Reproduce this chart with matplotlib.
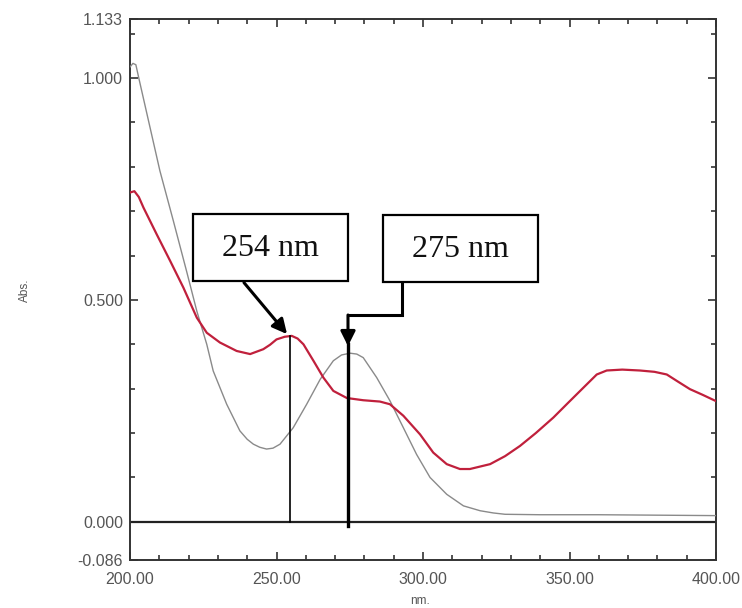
import matplotlib
matplotlib.use('Agg')
import matplotlib.pyplot as plt
from matplotlib.patches import Rectangle
from matplotlib.ticker import MultipleLocator, FixedLocator, FixedFormatter

# gray trace (wavelength nm, absorbance)
gray_nm = [200, 201, 202, 203, 210.2, 214.8, 219.3, 222.8, 226.2, 228.4, 233,
           237.5, 240, 242.1, 244.3, 246.6, 248.8, 251.2, 255.7, 260.3, 264.9,
           269.4, 272.2, 275.1, 277.4, 279.6, 284.2, 288.7, 293.3, 297.8, 302.4,
           308.1, 313.8, 319.5, 324, 328, 340, 360, 380, 400]
gray_abs = [1.025, 1.033, 1.03, 1.0, 0.791, 0.678, 0.565, 0.475, 0.400, 0.340,
            0.265, 0.205, 0.186, 0.175, 0.168, 0.164, 0.166, 0.175, 0.212, 0.265,
            0.321, 0.363, 0.376, 0.380, 0.378, 0.370, 0.325, 0.273, 0.212, 0.152,
            0.100, 0.062, 0.036, 0.025, 0.02, 0.017, 0.016, 0.016, 0.015, 0.014]

# red trace
red_nm = [200, 201.5, 203, 204.6, 209.1, 213.7, 218.2, 222.8, 226.2, 230.7,
          236.4, 241, 245.5, 247.8, 250, 252.8, 255.2, 257.2, 259.2, 262.6, 266,
          269.4, 274, 279.6, 285.3, 288.7, 293.3, 299, 303.5, 308.1, 312.6, 316,
          322.9, 328, 333.1, 338.5, 344.5, 349.5, 354.7, 359.3, 362.7, 368, 374,
          379, 383.2, 387, 391.1, 395.5, 400]
red_abs = [0.742, 0.745, 0.732, 0.708, 0.648, 0.588, 0.528, 0.460, 0.426, 0.404,
           0.385, 0.378, 0.389, 0.399, 0.411, 0.417, 0.419, 0.413, 0.400, 0.363,
           0.325, 0.295, 0.279, 0.274, 0.271, 0.265, 0.239, 0.197, 0.156, 0.130,
           0.119, 0.119, 0.130, 0.148, 0.171, 0.200, 0.235, 0.268, 0.302, 0.332,
           0.341, 0.343, 0.341, 0.338, 0.332, 0.316, 0.299, 0.286, 0.272]

peak_labels = ['254 nm', '275 nm']
peak_nm = [254.5, 274.4]

y_ticks = [-0.086, 0.0, 0.5, 1.0, 1.133]
y_ticklabels = ['-0.086', '0.000', '0.500', '1.000', '1.133']
x_ticks = [200, 250, 300, 350, 400]
x_ticklabels = ['200.00', '250.00', '300.00', '350.00', '400.00']

fig = plt.figure(figsize=(7.42, 6.08), dpi=100)
ax = fig.add_axes([130 / 742, 1 - 560 / 608, 586 / 742, 541 / 608])
ax.set_xlim(200, 400)
ax.set_ylim(-0.086, 1.133)

ax.plot(gray_nm, gray_abs, color='#8a8a8a', lw=1.0, zorder=3)
ax.plot(red_nm, red_abs, color='#c0203c', lw=1.6, zorder=4)
ax.axhline(0, color='#222222', lw=1.6, zorder=2)

# peak markers
ax.plot([peak_nm[0], peak_nm[0]], [0, 0.419], color='black', lw=1.2, zorder=5)
ax.plot([peak_nm[1], peak_nm[1]], [-0.01, 0.40], color='black', lw=2.4, zorder=5)

# boxes
boxes = [(221.5, 0.543, 52.9, 0.151), (286.3, 0.541, 52.9, 0.150)]
for (bx, by, bw, bh), lab in zip(boxes, peak_labels):
    ax.add_patch(Rectangle((bx, by), bw, bh, facecolor='white', edgecolor='black',
                           lw=1.6, zorder=6))
    ax.text(bx + bw / 2, by + bh / 2 - 0.003, lab, ha='center', va='center',
            fontsize=23, family='Liberation Serif', color='#111111', zorder=7)

ax.annotate('', xy=(253.6, 0.423), xytext=(238.9, 0.539),
            arrowprops=dict(arrowstyle='-|>', lw=2.2, color='black',
                            mutation_scale=22, shrinkA=0, shrinkB=0), zorder=8)
ax.plot([292.8, 292.8, peak_nm[1]], [0.541, 0.466, 0.466], color='black',
        lw=2.2, zorder=5, solid_joinstyle='miter')
ax.annotate('', xy=(peak_nm[1], 0.396), xytext=(peak_nm[1], 0.466),
            arrowprops=dict(arrowstyle='-|>', lw=2.2, color='black',
                            mutation_scale=22, shrinkA=0, shrinkB=0), zorder=8)

# axes styling
for s in ax.spines.values():
    s.set_color('#333333')
    s.set_linewidth(1.4)
ax.xaxis.set_major_locator(FixedLocator(x_ticks))
ax.xaxis.set_major_formatter(FixedFormatter(x_ticklabels))
ax.xaxis.set_minor_locator(MultipleLocator(10))
ax.yaxis.set_major_locator(FixedLocator(y_ticks))
ax.yaxis.set_major_formatter(FixedFormatter(y_ticklabels))
ax.yaxis.set_minor_locator(MultipleLocator(0.1))
ax.tick_params(which='both', direction='in', top=True, right=True,
               color='#333333', labelcolor='#555555', labelsize=11.5,
               labelfontfamily='Liberation Sans')
ax.tick_params(which='major', length=6, width=1.2)
ax.tick_params(which='minor', length=3.5, width=1.2)
ax.tick_params(axis='x', pad=9)
ax.tick_params(axis='y', pad=5)

fig.text(25 / 742, 1 - 290 / 608, 'Abs.', rotation=90, ha='center', va='center',
         fontsize=8.5, color='#555555', family='Liberation Sans')
fig.text(420 / 742, 1 - 601 / 608, 'nm.', ha='center', va='center',
         fontsize=8.5, color='#555555', family='Liberation Sans')

fig.savefig('out.png', dpi=100)
